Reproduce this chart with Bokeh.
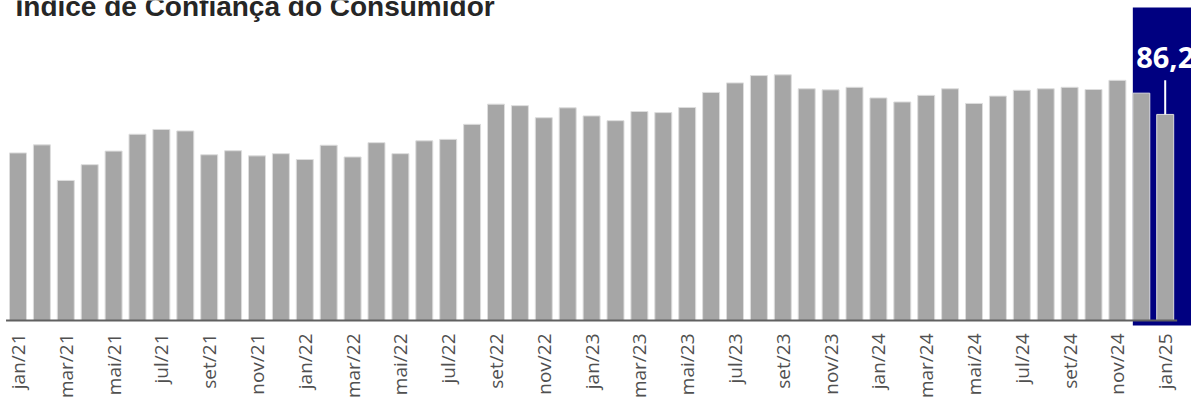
import math

from bokeh.core.properties import value
from bokeh.embed import file_html
from bokeh.models import BoxAnnotation, ColumnDataSource, Label, Range1d
from bokeh.plotting import figure
from bokeh.resources import INLINE

# Índice de Confiança do Consumidor (FGV), monthly, jan/2021 - jan/2025
month_names = ["jan", "fev", "mar", "abr", "mai", "jun",
               "jul", "ago", "set", "out", "nov", "dez"]
years = ["21", "22", "23", "24"]
months = [f"{m}/{y}" for y in years for m in month_names] + ["jan/25"]

icc = [75.7, 77.9, 68.2, 72.5, 76.2, 80.8, 82.1, 81.7, 75.2, 76.3, 74.9, 75.5,
       73.9, 77.8, 74.6, 78.5, 75.5, 79.0, 79.4, 83.5, 89.0, 88.6, 85.3, 88.0,
       85.8, 84.5, 87.0, 86.7, 88.1, 92.2, 94.8, 96.8, 97.0, 93.2, 92.9, 93.6,
       90.7, 89.6, 91.4, 93.2, 89.2, 91.2, 92.8, 93.2, 93.6, 93.0, 95.5, 92.0,
       86.2]

idx = list(range(len(icc)))
base = 30.0
bar_w = 0.71
last = len(icc) - 1

src = ColumnDataSource(data=dict(x=idx, top=icc, label=months))
tick_src = ColumnDataSource(data=dict(x=idx[::2], y=[base] * len(idx[::2]),
                                      label=months[::2]))

p = figure(width=1191, height=397, output_backend="svg", toolbar_location=None,
           x_range=Range1d(-0.732, 49.1), y_range=Range1d(9.0, 117.27),
           x_axis_location=None, y_axis_location=None, min_border=0,
           outline_line_color=None, background_fill_color="white",
           border_fill_color="white")
p.grid.visible = False

# highlight panel behind the last two months
p.add_layout(BoxAnnotation(left=last - 1 - bar_w / 2, top=115.36, bottom=28.64,
                           fill_color="#000080", fill_alpha=1.0,
                           line_color=None, level="underlay"))

p.vbar(x="x", top="top", bottom=base, width=bar_w, source=src,
       fill_color="#a6a6a6", line_color="#dddddd", line_width=1)

# baseline
p.segment(x0=[-0.5], y0=[base], x1=[len(icc) - 0.5], y1=[base],
          line_color="#606060", line_width=2)

# month labels, every other month, rotated
p.text(x="x", y="y", text="label", source=tick_src, angle=math.pi / 2,
       y_offset=13, text_align="right", text_baseline="middle",
       text_font=value("Open Sans"), text_font_size="19px",
       text_color="#505050")

# callout for the latest value
p.segment(x0=[last], y0=[icc[-1]], x1=[last], y1=[icc[-1] + 9.3],
          line_color="white", line_width=2)
p.text(x=[last], y=[icc[-1]], text=[f"{icc[-1]:.1f}".replace(".", ",")],
       y_offset=-57, text_align="center", text_baseline="alphabetic",
       text_color="white", text_font=value("Open Sans"),
       text_font_style="bold", text_font_size="29px")

p.add_layout(Label(x=15, y=391, x_units="screen", y_units="screen",
                   text="Índice de Confiança do Consumidor",
                   text_font="Liberation Sans", text_font_style="bold",
                   text_font_size="28px", text_color="#262626",
                   text_baseline="alphabetic"))

open("out.html", "w").write(file_html(p, INLINE))
